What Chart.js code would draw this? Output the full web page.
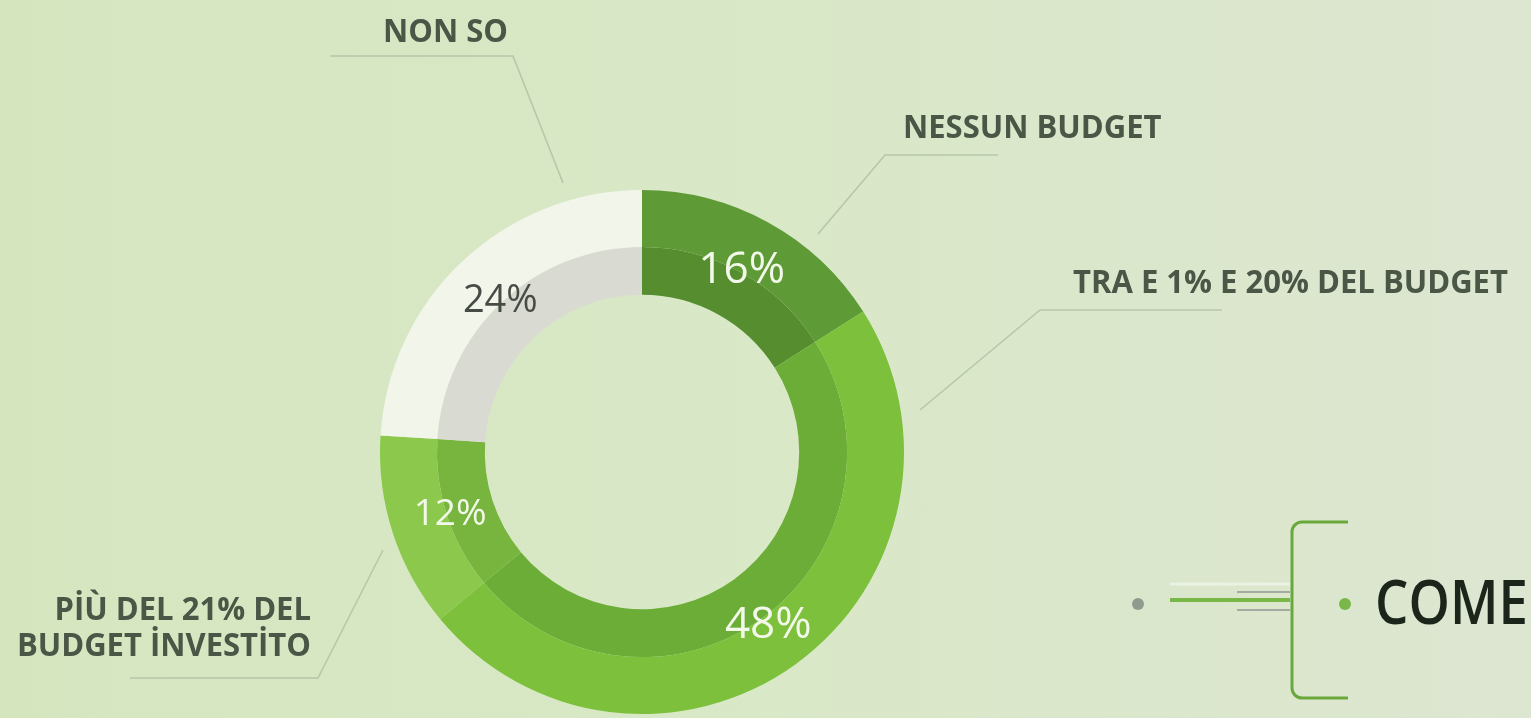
<!DOCTYPE html>
<html lang="it">
<head>
<meta charset="UTF-8">
<title>Budget</title>
<script src="https://cdn.jsdelivr.net/npm/chart.js"></script>
<style>
    html, body { margin: 0; padding: 0; }
    body {
        width: 1531px;
        height: 718px;
        overflow: hidden;
        background: linear-gradient(90deg, #d5e6bf 0%, #d9e8c7 50%, #dde6d1 100%);
    }
    canvas { display: block; }
</style>
</head>
<body>
<canvas id="donut" width="1531" height="718"></canvas>
<script>
    // dati
    var categories = ['NESSUN BUDGET', 'TRA E 1% E 20% DEL BUDGET', ['PİÙ DEL 21% DEL', 'BUDGET İNVESTİTO'], 'NON SO'];
    var values = [16, 48, 12, 24];

    // colori: anello esterno e fascia interna più scura
    var outerColors = ['#5e9a36', '#7dc03c', '#8bc84b', '#f1f5ea'];
    var innerColors = ['#558d2f', '#6bad36', '#77b53e', '#d9dbd2'];
    var pctColors = ['#f3f9ea', '#f3f9ea', '#f3f9ea', '#474b46'];
    var pctSizes = [44, 44, 37, 38];
    var pctRadius = [0.79, 0.82, 0.77, 0.79];

    // etichette con linee di richiamo
    var callouts = [
        { x: 903, y: 129, align: 'left', line: [[998, 155], [885, 155], [818, 234]] },
        { x: 1073, y: 284, align: 'left', line: [[1222, 310], [1040, 310], [920, 410]] },
        { x: 311, y: 611, align: 'right', line: [[130, 678], [318, 678], [383, 550]] },
        { x: 383, y: 33, align: 'left', line: [[330, 56], [513, 56], [563, 183]] }
    ];

    var labelsPlugin = {
        id: 'labelsPlugin',
        afterDraw: function(chart) {
            var ctx = chart.ctx;
            ctx.save();

            // percentuali dentro l'anello
            var meta = chart.getDatasetMeta(0);
            meta.data.forEach(function(arc, i) {
                var p = arc.getProps(['x', 'y', 'startAngle', 'endAngle', 'outerRadius']);
                var mid = (p.startAngle + p.endAngle) / 2;
                var r = p.outerRadius * pctRadius[i];
                ctx.font = pctSizes[i] + 'px "Open Sans"';
                ctx.fillStyle = pctColors[i];
                ctx.textAlign = 'center';
                ctx.textBaseline = 'middle';
                ctx.fillText(values[i] + '%', p.x + Math.cos(mid) * r, p.y + Math.sin(mid) * r);
            });

            // categorie
            callouts.forEach(function(c, i) {
                ctx.strokeStyle = '#b8c6ab';
                ctx.lineWidth = 1.6;
                ctx.beginPath();
                ctx.moveTo(c.line[0][0], c.line[0][1]);
                for (var k = 1; k < c.line.length; k++) ctx.lineTo(c.line[k][0], c.line[k][1]);
                ctx.stroke();

                var lines = Array.isArray(categories[i]) ? categories[i] : [categories[i]];
                ctx.save();
                ctx.translate(c.x, c.y);
                ctx.scale(0.94, 1); // carattere un po' stretto
                ctx.font = 'bold 33px "Open Sans"';
                ctx.fillStyle = '#4a5646';
                ctx.textAlign = c.align;
                ctx.textBaseline = 'middle';
                lines.forEach(function(t, j) {
                    ctx.fillText(t, 0, j * 36);
                });
                ctx.restore();
            });

            // elemento "COME" in basso a destra
            ctx.fillStyle = '#8f9b8d';
            ctx.beginPath(); ctx.arc(1138, 604, 6, 0, Math.PI * 2); ctx.fill();

            ctx.strokeStyle = 'rgba(255,255,255,0.45)';
            ctx.lineWidth = 3;
            ctx.beginPath(); ctx.moveTo(1170, 584); ctx.lineTo(1290, 584); ctx.stroke();

            ctx.strokeStyle = '#7ab648';
            ctx.lineWidth = 4;
            ctx.beginPath(); ctx.moveTo(1170, 600); ctx.lineTo(1290, 600); ctx.stroke();

            ctx.strokeStyle = '#a3aca0';
            ctx.lineWidth = 2;
            ctx.beginPath();
            ctx.moveTo(1237, 592); ctx.lineTo(1290, 592);
            ctx.moveTo(1237, 610); ctx.lineTo(1290, 610);
            ctx.stroke();

            ctx.strokeStyle = '#6aa83c';
            ctx.lineWidth = 3;
            ctx.beginPath();
            ctx.moveTo(1348, 522);
            ctx.arcTo(1292, 522, 1292, 698, 10);
            ctx.arcTo(1292, 698, 1348, 698, 10);
            ctx.lineTo(1348, 698);
            ctx.stroke();

            ctx.fillStyle = '#7ab648';
            ctx.beginPath(); ctx.arc(1345, 604, 6, 0, Math.PI * 2); ctx.fill();

            ctx.save();
            ctx.translate(1375, 606);
            ctx.scale(0.85, 1);
            ctx.font = '600 62px "Open Sans"';
            ctx.fillStyle = '#1b251a';
            ctx.textAlign = 'left';
            ctx.textBaseline = 'middle';
            ctx.fillText('COME', 0, 0);
            ctx.restore();

            ctx.restore();
        }
    };

    new Chart(document.getElementById('donut'), {
        type: 'doughnut',
        data: {
            labels: categories,
            datasets: [{
                data: values,
                backgroundColor: outerColors,
                borderWidth: 0,
                weight: 57
            }, {
                data: values,
                backgroundColor: innerColors,
                borderWidth: 0,
                weight: 48
            }]
        },
        options: {
            responsive: false,
            animation: false,
            cutout: '60%',
            layout: { padding: { left: 380, right: 627, top: 190, bottom: 4 } },
            plugins: {
                legend: { display: false },
                tooltip: { enabled: false }
            }
        },
        plugins: [labelsPlugin]
    });
</script>
</body>
</html>
